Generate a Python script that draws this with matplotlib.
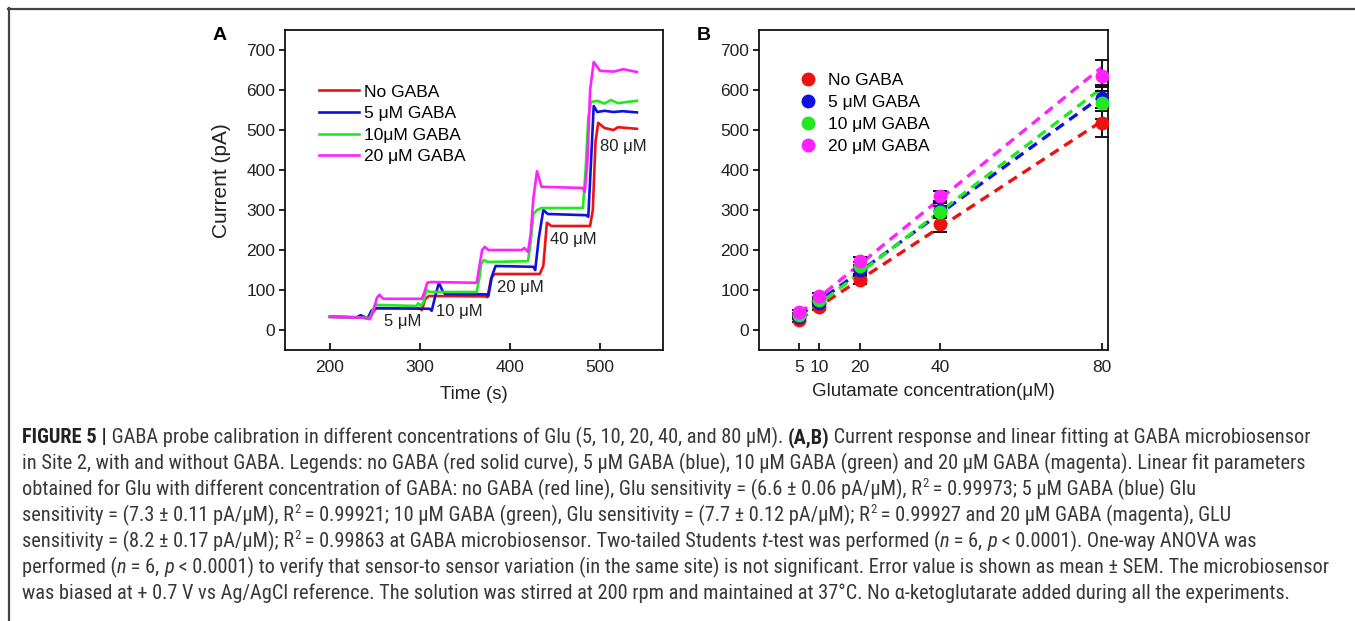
import os
import numpy as np
import matplotlib.pyplot as plt
from matplotlib import font_manager
from matplotlib.font_manager import FontProperties
from matplotlib.lines import Line2D
from matplotlib.transforms import IdentityTransform

plt.rcParams['font.family'] = ['Liberation Sans', 'DejaVu Sans']

# ---- panel A: amperometric traces (time s, current pA)
red_t = [200, 238, 243, 247, 251, 299, 302, 306, 310, 372, 375, 379, 383, 433, 437, 441, 446, 489, 492, 495, 498, 505, 515, 520, 541]
red_i = [33, 31, 28, 42, 54, 54, 50, 78, 85, 84, 82, 130, 140, 140, 160, 268, 260, 260, 300, 470, 518, 505, 500, 507, 503]
blue_t = [200, 230, 234, 238, 242, 246, 250, 311, 313, 317, 321, 325, 328, 374, 376, 380, 384, 426, 428, 432, 437, 442, 485, 487, 490, 493, 497, 505, 515, 525, 541]
blue_i = [33, 32, 37, 33, 30, 48, 55, 53, 48, 85, 118, 98, 90, 89, 85, 135, 160, 158, 150, 230, 300, 290, 287, 283, 420, 560, 545, 548, 545, 547, 544]
green_t = [200, 240, 244, 247, 250, 296, 298, 301, 304, 307, 311, 363, 366, 368, 371, 375, 420, 423, 426, 430, 435, 481, 484, 487, 490, 497, 505, 512, 520, 530, 541]
green_i = [33, 31, 30, 45, 63, 60, 67, 60, 70, 100, 95, 95, 130, 165, 175, 170, 172, 220, 290, 300, 305, 305, 400, 530, 570, 573, 566, 575, 567, 570, 573]
mag_t = [200, 236, 241, 244, 248, 252, 255, 259, 302, 305, 308, 312, 363, 366, 369, 372, 376, 413, 416, 420, 423, 426, 430, 435, 481, 483, 486, 489, 493, 500, 515, 526, 541]
mag_i = [33, 31, 29, 27, 45, 80, 88, 78, 78, 95, 118, 120, 118, 160, 200, 208, 200, 200, 205, 195, 240, 330, 397, 358, 355, 345, 420, 600, 670, 648, 646, 652, 645]
trace_labels = ['No GABA', '5 μM GABA', '10μM GABA', '20 μM GABA']
step_labels = ['5 μM', '10 μM', '20 μM', '40 μM', '80 μM']

# ---- panel B: calibration (glutamate µM, current pA, SEM)
conc = [5, 10, 20, 40, 80]
no_gaba = [25, 58, 125, 265, 518]
gaba5 = [33, 68, 150, 300, 580]
gaba10 = [38, 75, 160, 295, 568]
gaba20 = [45, 85, 172, 335, 636]
err_no = [5, 7, 10, 20, 36]
err_5 = [5, 7, 10, 18, 33]
err_10 = [5, 7, 10, 15, 40]
err_20 = [5, 7, 10, 12, 39]
sensitivity = [6.6, 7.3, 7.7, 8.2]   # pA/uM, from the caption
calib_labels = ['No GABA', '5 μM GABA', '10 μM GABA', '20 μM GABA']

colors = ['#ee1111', '#1111dd', '#22e822', '#ff22ff']
W, H = 1355, 621

fig = plt.figure(figsize=(W / 100, H / 100), dpi=100)
fig.patch.set_facecolor('white')


def px_axes(l, t, r, b):
    return fig.add_axes([l / W, 1 - b / H, (r - l) / W, (b - t) / H])


def style_axes(ax):
    for s in ax.spines.values():
        s.set_linewidth(1.3)
        s.set_color('#111111')
    ax.tick_params(axis='y', direction='out', length=4, width=1.2,
                   labelsize=12.5, labelcolor='#222222', pad=3)
    ax.tick_params(axis='x', direction='in', length=5, width=1.2,
                   labelsize=12.5, labelcolor='#222222', pad=7)
    ax.set_ylim(-50, 750)
    ax.set_yticks(range(0, 701, 100))


# panel A
axA = px_axes(285, 30, 663, 350)
style_axes(axA)
for t, i, c, lab in zip([red_t, blue_t, green_t, mag_t],
                        [red_i, blue_i, green_i, mag_i], colors, trace_labels):
    axA.plot(t, i, color=c, lw=1.9, label=lab)
axA.set_xlim(150, 570)
axA.set_xticks([200, 300, 400, 500])
axA.set_xlabel('Time (s)', fontsize=13.5, color='#222222', labelpad=8)
axA.set_ylabel('Current (pA)', fontsize=15, color='#222222')
axA.yaxis.set_label_coords(-0.143, 0.53)
step_pos = [(281, 20), (344, 47), (411, 107), (470, 225), (526, 460)]
for lab, (x, y) in zip(step_labels, step_pos):
    axA.text(x, y, lab, fontsize=12, ha='center', va='center', color='#222222')
axA.legend(loc='upper left', bbox_to_anchor=(0.09, 0.83), frameon=False,
           fontsize=12.5, handlelength=2.3, handletextpad=0.3,
           labelspacing=0.37, borderpad=0, borderaxespad=0)

# panel B
axB = px_axes(759, 30, 1108, 350)
style_axes(axB)
for y, e, k, c, lab in zip([no_gaba, gaba5, gaba10, gaba20],
                           [err_no, err_5, err_10, err_20], sensitivity,
                           colors, calib_labels):
    b0 = np.mean(np.array(y) - k * np.array(conc))
    xs = np.array([conc[0], conc[-1]])
    axB.plot(xs, k * xs + b0, color=c, lw=2.4, ls=(0, (3, 2)))
    axB.errorbar(conc, y, yerr=e, fmt='none', ecolor='#111111', elinewidth=1.4,
                 capsize=5, capthick=1.4, zorder=3)
    axB.plot(conc, y, 'o', color=c, ms=9, label=lab, zorder=4)
axB.set_xlim(-5, 81.6)
axB.set_xticks(conc)
axB.set_xlabel('Glutamate concentration(μM)', fontsize=13.5, color='#222222',
               labelpad=6)
axB.legend(loc='upper left', bbox_to_anchor=(0.116, 0.865), frameon=False,
           fontsize=12.5, handlelength=1.0, handletextpad=0.65,
           labelspacing=0.39, borderpad=0, borderaxespad=0, markerscale=1.0)

fig.text(220 / W, 1 - 35 / H, 'A', fontsize=14, fontweight='bold', ha='center', va='center')
fig.text(704 / W, 1 - 35 / H, 'B', fontsize=14, fontweight='bold', ha='center', va='center')

# outer frame (top and left rules)
fig.add_artist(Line2D([8, W], [H - 8.5, H - 8.5], transform=IdentityTransform(),
                      color='#444444', lw=1.6))
fig.add_artist(Line2D([8.5, 8.5], [0, H - 8], transform=IdentityTransform(),
                      color='#444444', lw=1.6))

# caption font: prefer a condensed sans if one is installed
font_files = {os.path.basename(f.fname): f.fname for f in font_manager.fontManager.ttflist}
candidates = [
    ('LiberationSansNarrow-Regular.ttf', 'LiberationSansNarrow-Bold.ttf', 'LiberationSansNarrow-Italic.ttf'),
    ('RobotoCondensed-Regular.ttf', 'RobotoCondensed-Bold.ttf', 'RobotoCondensed-Italic.ttf'),
    ('NotoSans-SemiCondensed.ttf', 'NotoSans-SemiCondensedBold.ttf', 'NotoSans-SemiCondensedItalic.ttf'),
    ('NotoSans-Condensed.ttf', 'NotoSans-CondensedBold.ttf', 'NotoSans-CondensedItalic.ttf'),
    ('DejaVuSansCondensed.ttf', 'DejaVuSansCondensed-Bold.ttf', 'DejaVuSansCondensed-Oblique.ttf'),
]
cap_fp = None
for reg, bold, ital in candidates:
    if reg in font_files:
        cap_fp = {'': font_files[reg],
                  'b': font_files.get(bold, font_files[reg]),
                  'i': font_files.get(ital, font_files[reg])}
        break

caption = [
    [("FIGURE 5 |", 'b'), (" GABA probe calibration in different concentrations of Glu (5, 10, 20, 40, and 80 μM). ", ''),
     ("(A,B)", 'b'), (" Current response and linear fitting at GABA microbiosensor", '')],
    [("in Site 2, with and without GABA. Legends: no GABA (red solid curve), 5 μM GABA (blue), 10 μM GABA (green) and 20 μM GABA (magenta). Linear fit parameters", '')],
    [("obtained for Glu with different concentration of GABA: no GABA (red line), Glu sensitivity = (6.6 ± 0.06 pA/μM), R", ''),
     ("2", 's'), (" = 0.99973; 5 μM GABA (blue) Glu", '')],
    [("sensitivity = (7.3 ± 0.11 pA/μM), R", ''), ("2", 's'),
     (" = 0.99921; 10 μM GABA (green), Glu sensitivity = (7.7 ± 0.12 pA/μM); R", ''), ("2", 's'),
     (" = 0.99927 and 20 μM GABA (magenta), GLU", '')],
    [("sensitivity = (8.2 ± 0.17 pA/μM); R", ''), ("2", 's'),
     (" = 0.99863 at GABA microbiosensor. Two-tailed Students ", ''), ("t", 'i'),
     ("-test was performed (", ''), ("n", 'i'), (" = 6, ", ''), ("p", 'i'),
     (" < 0.0001). One-way ANOVA was", '')],
    [("performed (", ''), ("n", 'i'), (" = 6, ", ''), ("p", 'i'),
     (" < 0.0001) to verify that sensor-to sensor variation (in the same site) is not significant. Error value is shown as mean ± SEM. The microbiosensor", '')],
    [("was biased at + 0.7 V vs Ag/AgCl reference. The solution was stirred at 200 rpm and maintained at 37°C. No α-ketoglutarate added during all the experiments.", '')],
]

renderer = fig.canvas.get_renderer()


def part_font(st, size):
    key = 'b' if st == 'b' else ('i' if st == 'i' else '')
    if cap_fp is not None:
        return FontProperties(fname=cap_fp[key], size=size)
    return FontProperties(family='Liberation Sans', size=size,
                          weight='bold' if key == 'b' else 'normal',
                          style='italic' if key == 'i' else 'normal')


def draw_parts(parts, x0, y0, size, keep=True):
    x = x0
    for s, st in parts:
        fs, yy = size, y0
        if st == 's':
            fs = size * 0.62
            yy = y0 + size * 0.55
        t = fig.text(x, yy, s, fontproperties=part_font(st, fs),
                     color='#222222' if st == 'b' else '#383838',
                     transform=IdentityTransform(), va='baseline', ha='left')
        x += t.get_window_extent(renderer).width
        if not keep:
            t.remove()
    return x - x0


base = 10.0
widest = max(draw_parts(p, 0, 0, base, keep=False) for p in caption)
cap_size = base * (1316 - 22) / widest
for k, parts in enumerate(caption):
    draw_parts(parts, 22, H - (443 + 26 * k), cap_size)

fig.savefig('out.png', dpi=100, facecolor='white')
